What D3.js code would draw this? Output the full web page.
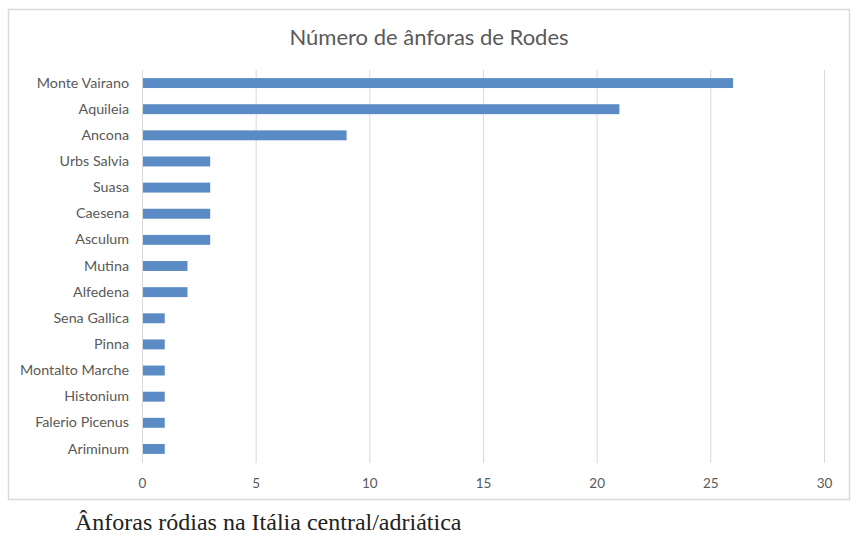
<!DOCTYPE html>
<html><head><meta charset="utf-8">
<script src="https://cdn.jsdelivr.net/npm/d3@7"></script>
<style>body{margin:0;background:#fff;}</style>
</head><body>
<svg id="chart" width="860" height="544"></svg>
<script>
const categories = ["Monte Vairano","Aquileia","Ancona","Urbs Salvia","Suasa","Caesena","Asculum","Mutina","Alfedena","Sena Gallica","Pinna","Montalto Marche","Histonium","Falerio Picenus","Ariminum"];
const values = [26,21,9,3,3,3,3,2,2,1,1,1,1,1,1];
const xTicks = [0,5,10,15,20,25,30];
const title = "Número de ânforas de Rodes";
const caption = "Ânforas ródias na Itália central/adriática";

const svg = d3.select("#chart");
svg.append("rect").attr("x",8.5).attr("y",9.5).attr("width",841).attr("height",490)
  .attr("fill","#fff").attr("stroke","#d9d9d9").attr("stroke-width",1.5);

const x = d3.scaleLinear().domain([0,30]).range([142,824]);
const y = d3.scaleBand().domain(categories).range([70,462]).paddingInner(0.62).paddingOuter(0.31);

const font = "Lato, 'Open Sans', sans-serif";
svg.append("text").attr("x",429).attr("y",45).attr("text-anchor","middle")
  .attr("font-family",font).attr("font-size",22).attr("fill","#595959").text(title);

// gridlines
svg.append("g").selectAll("line").data(xTicks).join("line")
  .attr("x1",d=>x(d)+0.5).attr("x2",d=>x(d)+0.5).attr("y1",70).attr("y2",463)
  .attr("stroke","#d9d9d9").attr("stroke-width",1);

// x axis
const xAxis = svg.append("g").attr("transform","translate(0,488)")
  .call(d3.axisBottom(x).tickValues(xTicks).tickSize(0).tickPadding(0));
xAxis.select(".domain").remove();
xAxis.selectAll("text").attr("font-family",font).attr("font-size",13.5).attr("fill","#595959").attr("dy",0);

// y axis
const yAxis = svg.append("g").attr("transform","translate(129,0)")
  .call(d3.axisLeft(y).tickSize(0).tickPadding(0));
yAxis.select(".domain").remove();
yAxis.selectAll("text").attr("font-family",font).attr("font-size",14.3).attr("fill","#595959");

// bars
svg.append("g").selectAll("rect").data(categories).join("rect")
  .attr("x",x(0)+1).attr("y",d=>y(d)).attr("height",y.bandwidth())
  .attr("width",(d,i)=>x(values[i])-x(0)-1).attr("fill","#5b8bc5");

svg.append("text").attr("x",75).attr("y",530)
  .attr("font-family","'Liberation Serif','DejaVu Serif',serif").attr("font-size",24).attr("fill","#222").text(caption);
</script>
</body></html>
